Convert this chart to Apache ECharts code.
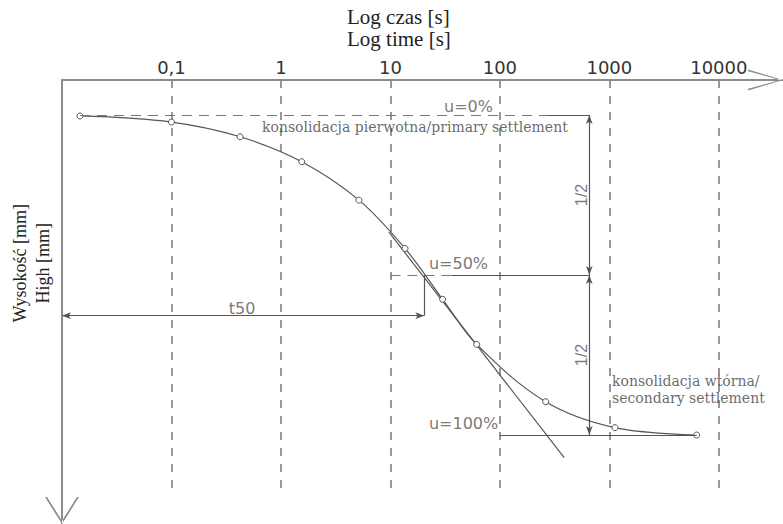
<!DOCTYPE html>
<html><head><meta charset="utf-8">
<script src="https://cdn.jsdelivr.net/npm/echarts@6/dist/echarts.min.js"></script>
<style>html,body{margin:0;padding:0;background:#fff}#c{width:783px;height:524px}</style>
</head><body><div id="c"></div>
<script>
// ---- data (time in s on log axis, degree of consolidation u in %) ----
const timeSec = [0.0146, 0.1, 0.423, 1.55, 5.16, 13.6, 30.0, 61.4, 262, 1126, 6281];
const consolidation = [0.3, 2.2, 6.8, 14.6, 26.6, 41.7, 57.6, 71.7, 89.6, 97.7, 100];
const tickValues = [0.1, 1, 10, 100, 1000, 10000];
const tickLabels = ['0,1', '1', '10', '100', '1000', '10000'];
const tangentTime = [9.7, 387];
const tangentU = [36.6, 107.1];
const uLevels = [0, 50, 100];
const uLabels = ['u=0%', 'u=50%', 'u=100%'];
const t50 = 20.4;
const t50LevelU = 62.7;
const halfTime = 656;
const titleLines = ['Log czas [s]', 'Log time [s]'];
const yAxisName = 'Wysokość [mm]\nHigh [mm]';
const primaryText = 'konsolidacja pierwotna/primary settlement';
const secondaryText = 'konsolidacja wtórna/\nsecondary settlement';

// ---- build ----
const lineColor = '#555';
const axisColor = '#8c8c8c';
const sans = 'DejaVu Sans';
const serif = 'DejaVu Serif';

const curve = timeSec.map((t, i) => [t, consolidation[i]]);
const tangent = tangentTime.map((t, i) => [t, tangentU[i]]);

function seg(a, b, symA, symB, style) {
  return [{coord: a, symbol: symA || 'none', lineStyle: style || {}}, {coord: b, symbol: symB || 'none'}];
}
const dashed = {type: [10, 7], color: '#777'};
const guideLines = [
  seg([timeSec[0], uLevels[0]], [269, uLevels[0]], null, null, dashed),
  seg([269, uLevels[0]], [halfTime, uLevels[0]]),
  seg([10, uLevels[1]], [36.5, uLevels[1]], null, null, dashed),
  seg([36.5, uLevels[1]], [halfTime, uLevels[1]]),
  seg([100, uLevels[2]], [timeSec[timeSec.length - 1], uLevels[2]]),
  seg([halfTime, uLevels[0]], [halfTime, uLevels[1]], 'arrow', 'arrow'),
  seg([halfTime, uLevels[1]], [halfTime, uLevels[2]], 'arrow', 'arrow'),
  seg([t50, uLevels[1]], [t50, t50LevelU]),
  seg([0.01, t50LevelU], [t50, t50LevelU], 'arrow', 'arrow')
];

function note(pos, text, align, font, size, color, rotate) {
  return {value: pos, label: {show: true, position: 'inside', formatter: text, align: align,
    verticalAlign: 'middle', fontFamily: font, fontSize: size, color: color, rotate: rotate || 0, lineHeight: 17}};
}
const notes = [
  note([86.5, -2.8], uLabels[0], 'right', sans, 16, '#555'),
  note([22.5, 46.25], uLabels[1], 'left', sans, 16, '#555'),
  note([22.5, 96.25], uLabels[2], 'left', sans, 16, '#555'),
  note([0.671, 3.9], primaryText, 'left', serif, 14, '#444'),
  note([1057, 85.8], secondaryText, 'left', serif, 14, '#444'),
  note([0.441, 60.6], 't50', 'center', sans, 16, '#555'),
  note([562, 25], '1/2', 'center', 'Liberation Sans', 16, '#555', 90),
  note([562, 75], '1/2', 'center', 'Liberation Sans', 16, '#555', 90)
];

const xArrow = 'path://M30,0 L0,100 L5,100 L30,8 Z M30,0 L60,100 L55,100 L30,8 Z M27,0 L33,0 L33,100 L27,100 Z';
const yArrow = 'path://M50,0 L0,79.4 L6,79.4 L50,9.5 Z M50,0 L100,79.4 L94,79.4 L50,9.5 Z M47,0 L53,0 L53,79.4 L47,79.4 Z';

const titleStyle = {fontFamily: 'Liberation Serif', fontSize: 21, fontWeight: 'normal', color: '#222'};
const option = {
  animation: false,
  title: [
    {text: titleLines[0], left: 347, top: 6, padding: 0, textStyle: titleStyle},
    {text: titleLines[1], left: 347, top: 28, padding: 0, textStyle: titleStyle}
  ],
  grid: [
    {left: 62, top: 80, right: 17.5, bottom: 28},
    {left: 62, top: 80, width: 10, bottom: 13.5}
  ],
  xAxis: [
    {
      type: 'log', logBase: 10, gridIndex: 0, position: 'top', min: 0.01, max: 26700,
      axisLine: {show: true, onZero: false, lineStyle: {color: axisColor, width: 2}, symbol: ['none', xArrow], symbolSize: [21, 35]},
      axisTick: {show: false},
      axisLabel: {
        margin: 4, color: '#333', fontFamily: sans, fontSize: 18,
        formatter: v => {
          const i = tickValues.findIndex(t => Math.abs(Math.log10(v) - Math.log10(t)) < 1e-6);
          return i >= 0 ? tickLabels[i] : '';
        }
      },
      splitLine: {show: true, showMinLine: false, showMaxLine: false, lineStyle: {type: [8, 8], color: '#777', width: 1.5}}
    },
    {type: 'value', gridIndex: 1, show: false}
  ],
  yAxis: [
    {type: 'value', gridIndex: 0, inverse: true, min: -10.94, max: 119.06, show: false},
    {
      type: 'value', gridIndex: 1, min: 0, max: 1,
      axisLine: {show: true, onZero: false, lineStyle: {color: axisColor, width: 2}, symbol: [yArrow, 'none'], symbolSize: [34, 27]},
      axisTick: {show: false}, axisLabel: {show: false}, splitLine: {show: false},
      name: yAxisName, nameLocation: 'middle', nameRotate: 90, nameGap: 8,
      nameTextStyle: {fontFamily: 'Liberation Serif', fontSize: 18, color: '#222', lineHeight: 23, padding: [0, 0, 0, 64]}
    }
  ],
  series: [
    {
      type: 'line', xAxisIndex: 0, yAxisIndex: 0, data: curve, smooth: 0.35,
      symbol: 'circle', symbolSize: 6, showAllSymbol: true,
      itemStyle: {color: '#fff', borderColor: lineColor, borderWidth: 1},
      lineStyle: {color: lineColor, width: 1.2}, silent: true, z: 3,
      markLine: {
        silent: true, symbolSize: [5, 9], label: {show: false},
        lineStyle: {color: lineColor, width: 1.2, type: 'solid'},
        emphasis: {disabled: true},
        data: guideLines
      }
    },
    {
      type: 'line', xAxisIndex: 0, yAxisIndex: 0, data: tangent, symbol: 'none',
      lineStyle: {color: lineColor, width: 1.2}, silent: true
    },
    {
      type: 'scatter', xAxisIndex: 0, yAxisIndex: 0, data: notes, symbolSize: 1,
      itemStyle: {color: 'rgba(0,0,0,0)'}, silent: true
    }
  ]
};
const chart = echarts.init(document.getElementById('c'), null, {renderer: 'svg'});
chart.setOption(option);
</script>
</body></html>
